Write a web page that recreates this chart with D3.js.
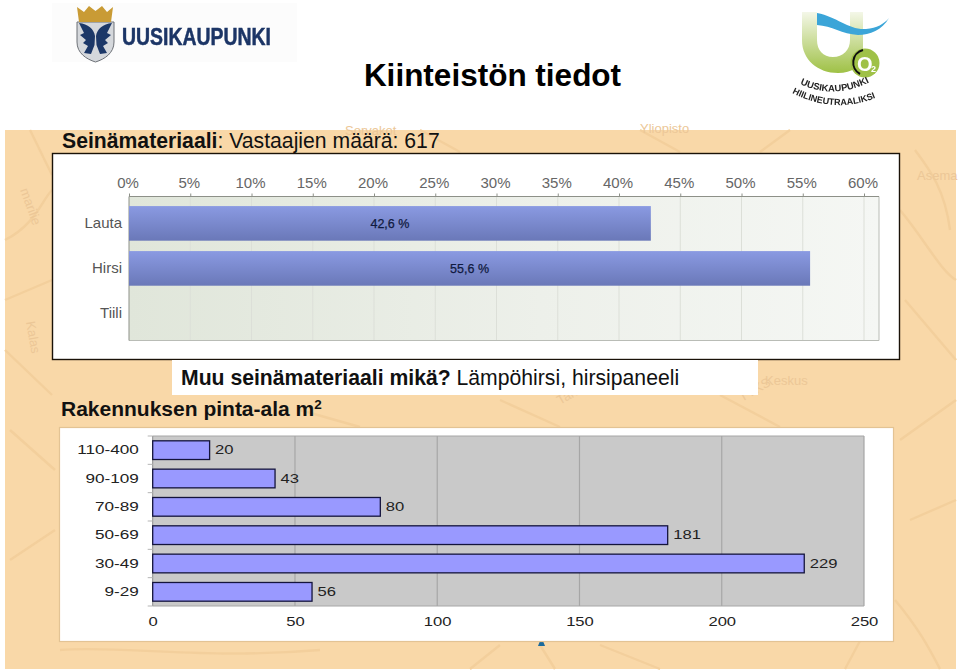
<!DOCTYPE html>
<html><head><meta charset="utf-8">
<script src="https://cdn.jsdelivr.net/npm/d3@7"></script>
<style>html,body{margin:0;padding:0;background:#fff}svg{display:block}text{font-family:"Liberation Sans",Arial,sans-serif}</style>
</head><body><div id="c"></div>
<script>
const wallCategories = ["Lauta", "Hirsi", "Tiili"];
const wallValues = [42.6, 55.6, 0];
const wallLabels = ["42,6 %", "55,6 %", ""];
const wallTicks = [0, 5, 10, 15, 20, 25, 30, 35, 40, 45, 50, 55, 60];
const areaCategories = ["110-400", "90-109", "70-89", "50-69", "30-49", "9-29"];
const areaValues = [20, 43, 80, 181, 229, 56];
const areaTicks = [0, 50, 100, 150, 200, 250];
const mapWords = [["Asema",917,180,0],["Keskus",765,385,0],["TYKS",742,402,-30],["Kalas",26,322,80],["marilie",20,190,70],["Sorvakot",345,135,0],["Tahmelinkatu",560,405,-30],["Yliopisto",640,133,0]];
const mapStreaks = [
 "M5 240C35 225 42 200 52 190","M5 300L52 280","M5 350L52 395","M30 130L52 175","M900 210C925 240 940 270 956 280",
 "M905 300L956 360","M900 440L956 400","M910 520L956 500","M895 600C920 630 930 650 940 669","M540 645L555 669",
 "M60 650C120 645 200 660 320 650","M600 645L660 669","M860 641L845 669","M420 130L460 152","M640 130L680 152","M790 130L760 152",
 "M300 410L360 427","M500 400L560 427","M720 395L780 427","M915 150C930 170 945 190 950 230","M10 430L55 470","M10 560L55 530","M470 669L500 645"];

const W = 960, H = 671;
const svg = d3.select("#c").append("svg").attr("width", W).attr("height", H);
const defs = svg.append("defs");
const barGrad = defs.append("linearGradient").attr("id","barG").attr("x1",0).attr("x2",0).attr("y1",0).attr("y2",1);
barGrad.append("stop").attr("offset",0).attr("stop-color","#8a9ae2");
barGrad.append("stop").attr("offset",1).attr("stop-color","#6a78b8");
const plotGrad = defs.append("linearGradient").attr("id","plotG");
plotGrad.append("stop").attr("offset",0).attr("stop-color","#e0e6da");
plotGrad.append("stop").attr("offset",0.55).attr("stop-color","#edf0ea");
plotGrad.append("stop").attr("offset",1).attr("stop-color","#f5f7f4");
const uGrad = defs.append("linearGradient").attr("id","uG").attr("x1",0).attr("x2",0).attr("y1",0).attr("y2",1);
uGrad.append("stop").attr("offset",0).attr("stop-color","#f4f7e8");
uGrad.append("stop").attr("offset",1).attr("stop-color","#9fc146");
defs.append("filter").attr("id","soft").append("feGaussianBlur").attr("stdDeviation",0.4);

// background map
svg.append("rect").attr("x",5).attr("y",130).attr("width",951).attr("height",539).attr("fill","#f9d8a8");
const bg = svg.append("g");
bg.selectAll("path").data(mapStreaks).join("path").attr("d",d=>d).attr("fill","none").attr("stroke","#f3cf9c").attr("stroke-width",2.4);
bg.selectAll("text").data(mapWords).join("text")
  .attr("transform",d=>`translate(${d[1]},${d[2]}) rotate(${d[3]})`).attr("font-size",13).attr("fill","#ecc797").text(d=>d[0]);

// left logo
const ll = svg.append("g").attr("filter","url(#soft)");
ll.append("rect").attr("x",52).attr("y",3).attr("width",245).attr("height",59).attr("fill","#fcfcfc");
ll.append("path").attr("d","M77 22H114V42C114 53 105 59 95.5 62C86 59 77 53 77 42Z").attr("fill","#d5d8dc").attr("stroke","#6d7177");
ll.append("path").attr("d","M77 7L84 12L89 6L95.5 11L102 6L107 12L113 7L111 22H79Z").attr("fill","#c99b34");
ll.append("path").attr("d","M79 23C88 24 94 29 95 36L94.5 45L91 54L84 53L88 46L83 43L86 40L80 35L84 33Z").attr("fill","#1c3768");
ll.append("path").attr("d","M112 23C103 24 97 29 96 36L96.5 45L100 54L107 53L103 46L108 43L105 40L111 35L107 33Z").attr("fill","#1c3768");
ll.append("text").attr("x",122).attr("y",45).attr("font-size",24).attr("font-weight",700).attr("fill","#1b3566").attr("stroke","#1b3566").attr("stroke-width",.5)
  .attr("textLength",149).attr("lengthAdjust","spacingAndGlyphs").text("UUSIKAUPUNKI");

// right logo
const rl = svg.append("g").attr("filter","url(#soft)");
rl.append("path").attr("d","M802 12V40C802 60 818 73 838 73C852 73 862 66 863 58V12H850V40C850 50 843 57 833 57C823 57 817 50 817 40V12Z").attr("fill","url(#uG)");
rl.append("path").attr("d","M817 13C838 17 848 30 866 29C877 28 884 24 889 18C882 30 870 35 858 35C842 34 832 26 817 25Z").attr("fill","#3aa5d8");
rl.append("circle").attr("cx",865).attr("cy",63).attr("r",14.5).attr("fill","#9fc146");
rl.append("path").attr("d","M863 50A13 13 0 0 0 860 74").attr("fill","none").attr("stroke","#111").attr("stroke-width",2);
rl.append("text").attr("x",857).attr("y",71).attr("font-size",20).attr("font-weight",700).attr("fill","#fff").text("O");
rl.append("text").attr("x",871).attr("y",72).attr("font-size",9).attr("font-weight",700).attr("fill","#fff").text("2");
defs.append("path").attr("id","arc1").attr("d","M800 84Q834 100 870 82");
defs.append("path").attr("id","arc2").attr("d","M792 93Q835 115 878 97");
[["arc1","UUSIKAUPUNKI"],["arc2","HIILINEUTRAALIKSI"]].forEach(([id,t])=>{
  rl.append("text").attr("font-size",id==="arc1"?9.4:9).attr("font-weight",700).attr("fill","#222")
    .append("textPath").attr("href","#"+id).text(t);
});

// title
svg.append("text").attr("x",492.5).attr("y",86).attr("text-anchor","middle").attr("font-size",31.5).attr("font-weight",700).attr("fill","#000").text("Kiinteistön tiedot");

// heading 1
const h1 = svg.append("text").attr("x",62).attr("y",148).attr("font-size",21.2).attr("fill","#111");
h1.append("tspan").attr("font-weight",700).text("Seinämateriaali");
h1.append("tspan").text(": Vastaajien määrä: 617");

// wall chart
svg.append("rect").attr("x",52.5).attr("y",153.5).attr("width",847).attr("height",206).attr("fill","#fff").attr("stroke","#1a1208").attr("stroke-width",1.4);
const wx = d3.scaleLinear().domain([0,60]).range([129,864]);
const wy = d3.scaleBand().domain(wallCategories).range([200.9,335.9]).paddingInner(0.231).paddingOuter(0.115);
const plot1 = {x:129,y:196.5,r:879,b:340.5};
svg.append("rect").attr("x",plot1.x).attr("y",plot1.y).attr("width",plot1.r-plot1.x).attr("height",plot1.b-plot1.y).attr("fill","url(#plotG)");
svg.append("g").selectAll("line").data(wallTicks.slice(1)).join("line")
  .attr("x1",d=>wx(d)).attr("x2",d=>wx(d)).attr("y1",plot1.y).attr("y2",plot1.b).attr("stroke","#dcdfd8");
svg.append("path").attr("d",`M${plot1.x} ${plot1.b}H${plot1.r}V${plot1.y}`).attr("fill","none").attr("stroke","#b9bcb6");
svg.append("line").attr("x1",plot1.x).attr("x2",plot1.x).attr("y1",plot1.y).attr("y2",plot1.b).attr("stroke","#8d9088");
const wAxis = svg.append("g").attr("transform",`translate(0,${plot1.y})`).call(d3.axisTop(wx).tickValues(wallTicks).tickFormat(d=>d+"%").tickSize(3).tickPadding(4));
wAxis.select(".domain").attr("d",`M${plot1.x} 0H${plot1.r}`).attr("stroke","#8d9088");
wAxis.selectAll(".tick line").attr("stroke","#8d9088");
wAxis.selectAll("text").attr("font-size",15).attr("fill","#666").attr("font-family","Liberation Sans").attr("dx",-1.5).attr("dy",-1.5);
svg.append("g").selectAll("text").data(wallCategories).join("text")
  .attr("x",122).attr("y",d=>wy(d)+wy.bandwidth()/2+5).attr("text-anchor","end").attr("font-size",15).attr("fill","#555").text(d=>d);
svg.append("g").selectAll("rect").data(wallCategories.map((c,i)=>({c,v:wallValues[i]})).filter(d=>d.v>0)).join("rect")
  .attr("x",wx(0)).attr("y",d=>wy(d.c)).attr("width",d=>wx(d.v)-wx(0)).attr("height",wy.bandwidth()).attr("fill","url(#barG)");
svg.append("g").selectAll("text").data(wallCategories.map((c,i)=>({c,v:wallValues[i],l:wallLabels[i]})).filter(d=>d.v>0)).join("text")
  .attr("x",d=>wx(d.v/2)).attr("y",d=>wy(d.c)+wy.bandwidth()/2+4.5).attr("text-anchor","middle").attr("font-size",12.5)
  .attr("fill","#101a40").attr("stroke","#101a40").attr("stroke-width",.25).text(d=>d.l);

// overlay text box
svg.append("rect").attr("x",172).attr("y",360).attr("width",586).attr("height",35).attr("fill","#fff");
const ov = svg.append("text").attr("x",181).attr("y",385).attr("font-size",21.2).attr("fill","#111");
ov.append("tspan").attr("font-weight",700).text("Muu seinämateriaali mikä?");
ov.append("tspan").text(" Lämpöhirsi, hirsipaneeli");

// heading 2
const h2 = svg.append("text").attr("x",61).attr("y",416).attr("font-size",21).attr("font-weight",700).attr("fill","#111");
h2.append("tspan").text("Rakennuksen pinta-ala m");
h2.append("tspan").attr("font-size",13.5).attr("dy",-7).text("2");

// text mostly hidden behind the area chart: a few specks and one blue glyph foot
svg.append("line").attr("x1",382).attr("x2",560).attr("y1",641.5).attr("y2",641.5).attr("stroke","#b3a68e").attr("stroke-width",1).attr("stroke-dasharray","6 9");
svg.append("path").attr("d","M538 646L540 641H543L545 646Z").attr("fill","#1b6a9c");

// area chart
svg.append("rect").attr("x",59.5).attr("y",427.5).attr("width",834).attr("height",214).attr("fill","#fff").attr("stroke","#e3c394").attr("stroke-width",1.2);
const ax = d3.scaleLinear().domain([0,250]).range([152.7,864]);
const ay = d3.scaleBand().domain(areaCategories).range([436,606]).paddingInner(0.34).paddingOuter(0.17);
svg.append("rect").attr("x",ax(0)).attr("y",436).attr("width",ax(250)-ax(0)).attr("height",170).attr("fill","#c9c9c9");
svg.append("g").selectAll("line").data(areaTicks.slice(1)).join("line")
  .attr("x1",d=>ax(d)).attr("x2",d=>ax(d)).attr("y1",436).attr("y2",606).attr("stroke","#a6a6a6").attr("stroke-width",1.2);
svg.append("path").attr("d",`M${ax(0)} 436H${ax(250)}M${ax(0)} 606H${ax(250)}`).attr("stroke","#a6a6a6").attr("fill","none");
svg.append("line").attr("x1",ax(0)).attr("x2",ax(0)).attr("y1",436).attr("y2",606).attr("stroke","#8c8c8c");
const aAxisB = svg.append("g").attr("transform","translate(0,606)").call(d3.axisBottom(ax).tickValues(areaTicks).tickSize(0).tickPadding(0));
aAxisB.select(".domain").remove();
aAxisB.selectAll("text").attr("font-family","Liberation Sans").attr("font-size",12.5).attr("fill","#222").attr("dy",0).attr("y",0)
  .attr("transform","translate(0,20) scale(1.33,1)");
const aAxisL = svg.append("g").attr("transform",`translate(${ax(0)},0)`).call(d3.axisLeft(ay).tickSize(0).tickPadding(0));
aAxisL.select(".domain").remove();
aAxisL.selectAll("text").attr("font-family","Liberation Sans").attr("font-size",12.5).attr("fill","#222").attr("x",0).attr("dy",4);
aAxisL.selectAll(".tick text").attr("transform","translate(-14,0) scale(1.37,1)");
svg.append("g").selectAll("line").data(d3.range(areaCategories.length+1)).join("line")
  .attr("x1",ax(0)-5).attr("x2",ax(0)).attr("y1",i=>436+i*ay.step()).attr("y2",i=>436+i*ay.step()).attr("stroke","#b5b5b5");
const areaRows = areaCategories.map((c,i)=>({c,v:areaValues[i]}));
svg.append("g").selectAll("rect").data(areaRows).join("rect")
  .attr("x",ax(0)).attr("y",d=>ay(d.c)).attr("width",d=>ax(d.v)-ax(0)).attr("height",ay.bandwidth())
  .attr("fill","#9999ff").attr("stroke","#14143c").attr("stroke-width",1.3);
svg.append("g").selectAll("text").data(areaRows).join("text")
  .attr("font-size",12.5).attr("fill","#222")
  .attr("transform",d=>`translate(${ax(d.v)+5.5},${ay(d.c)+ay.bandwidth()/2+4}) scale(1.33,1)`).text(d=>d.v);
</script></body></html>
